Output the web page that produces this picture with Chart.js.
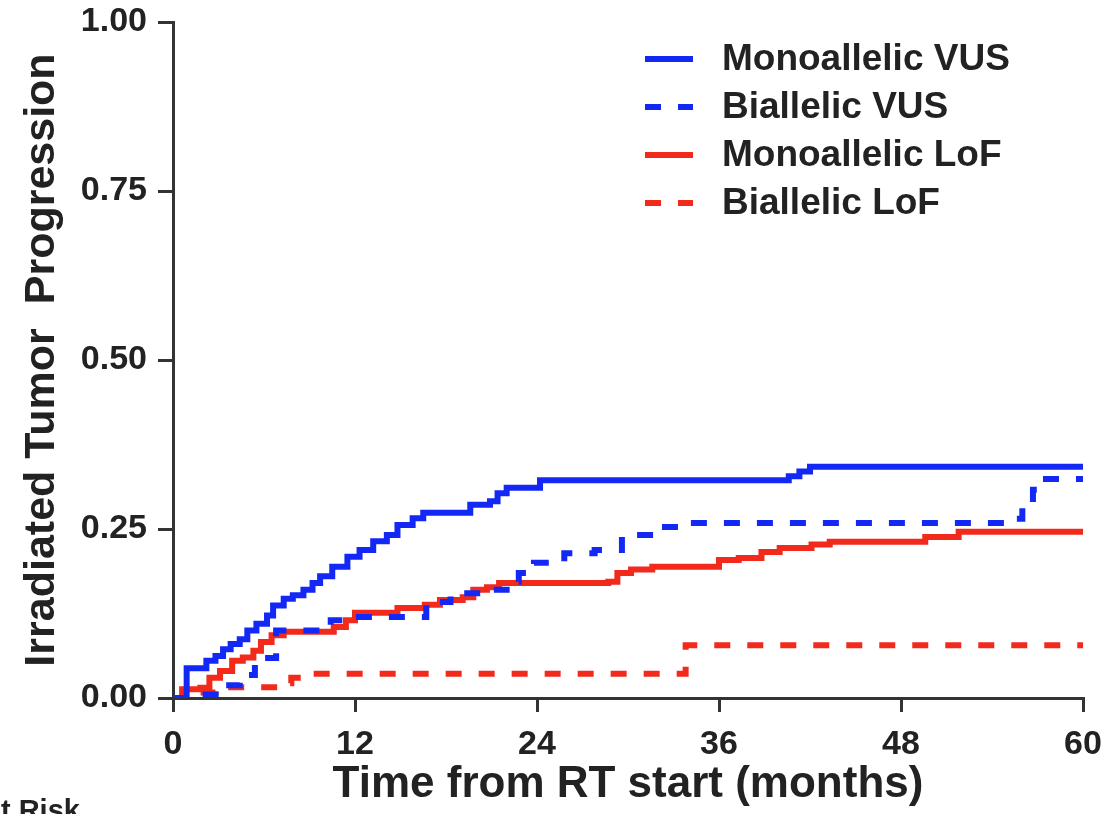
<!DOCTYPE html>
<html>
<head>
<meta charset="utf-8">
<script src="https://cdn.jsdelivr.net/npm/chart.js@4.4.1/dist/chart.umd.min.js"></script>
<style>
body{margin:0;background:#fff;overflow:hidden}
#wrap{position:relative;width:1109px;height:814px}
#atRisk{position:absolute;left:-20px;top:794px;font:bold 29px "Liberation Sans",Arial,sans-serif;color:#222;white-space:nowrap}
</style>
</head>
<body>
<div id="wrap">
<canvas id="km" width="1109" height="814"></canvas>
<div id="atRisk">At Risk</div>
</div>
<script>

/* DATA (months, cumulative incidence) */

const xTicks = [0,12,24,36,48,60]
const yTicks = [0,0.25,0.5,0.75,1]

const monoVusTime = [0,0.9,2.2,2.8,3.3,3.8,4.4,4.9,5.5,6.2,6.6,7.3,7.9,8.6,9.2,9.7,10.5,11.5,12.3,13.2,14.1,14.8,15.8,16.5,19.6,20.9,21.4,22.0,24.2,40.6,41.3,42.0,60]
const monoVusProb = [0,0.044,0.055,0.062,0.072,0.080,0.087,0.100,0.110,0.122,0.137,0.147,0.152,0.160,0.170,0.180,0.194,0.209,0.219,0.232,0.241,0.256,0.266,0.274,0.286,0.291,0.303,0.311,0.322,0.328,0.335,0.342,0.342]

const biVusTime = [0,1.5,3.4,4.4,5.4,6.8,10.4,11.6,16.7,18.3,20.6,22.0,22.8,23.8,25.8,27.8,29.6,31.8,33.8,55.3,56.0,56.7,57.3,60]
const biVusProb = [0,0.005,0.019,0.034,0.059,0.100,0.115,0.120,0.142,0.155,0.160,0.172,0.185,0.200,0.214,0.219,0.241,0.253,0.259,0.265,0.288,0.308,0.324,0.324]

const monoLofTime = [0,0.6,1.8,2.4,3.1,3.9,4.6,5.3,5.8,6.5,7.3,10.6,11.4,12.0,14.8,16.6,17.6,19.1,19.8,20.7,21.5,28.7,29.3,30.2,31.6,36.0,37.3,38.8,40.0,42.1,43.3,49.6,51.8,60]
const monoLofProb = [0,0.013,0.015,0.030,0.040,0.055,0.060,0.070,0.083,0.093,0.098,0.105,0.115,0.126,0.133,0.138,0.145,0.149,0.160,0.164,0.170,0.172,0.185,0.190,0.194,0.204,0.207,0.216,0.222,0.227,0.231,0.238,0.246,0.246]

const biLofTime = [0,1.5,2.8,7.2,7.8,8.5,33.8,60]
const biLofProb = [0,0.008,0.016,0.022,0.030,0.036,0.078,0.078]

const labels = ["Monoallelic VUS","Biallelic VUS","Monoallelic LoF","Biallelic LoF"]

const BLUE = "#1428f5"
const RED = "#f22a1c"
const INK = "#222"
const FONT = "'Liberation Sans', Arial, sans-serif"

function pts(t,p){
return t.map((v,i)=>({x:v,y:p[i]}))
}

function series(label,t,p,color,dash){
return {
label:label,
data:pts(t,p),
borderColor:color,
backgroundColor:color,
borderWidth:6,
borderDash:dash,
stepped:true,
pointRadius:0,
fill:false
}
}

/* LEGEND drawn on canvas */

const kmLegend = {
id:"kmLegend",
afterDraw(chart){
const ctx = chart.ctx
ctx.save()
chart.data.datasets.forEach((ds,i)=>{
const y = 59 + i*48
ctx.strokeStyle = ds.borderColor
ctx.lineWidth = 6
ctx.setLineDash(ds.borderDash || [])
ctx.beginPath()
ctx.moveTo(645,y)
ctx.lineTo(693,y)
ctx.stroke()
ctx.setLineDash([])
ctx.fillStyle = INK
ctx.font = "bold 37px " + FONT
ctx.textBaseline = "middle"
ctx.fillText(ds.label,722,y+1)
})
ctx.restore()
}
}

new Chart(document.getElementById("km"),{
type:"line",
data:{
datasets:[
series(labels[0],monoVusTime,monoVusProb,BLUE,[]),
series(labels[1],biVusTime,biVusProb,BLUE,[16,17]),
series(labels[2],monoLofTime,monoLofProb,RED,[]),
series(labels[3],biLofTime,biLofProb,RED,[16,17])
]
},
options:{
responsive:false,
devicePixelRatio:1,
animation:false,
layout:{padding:{top:22,right:26,left:0,bottom:0}},
plugins:{legend:{display:false},tooltip:{enabled:false}},
scales:{
x:{
type:"linear",
min:0,max:60,
afterBuildTicks(s){ s.ticks = xTicks.map(v=>({value:v})) },
afterFit(s){ s.height = 116; s.paddingLeft = 0; s.paddingRight = 0 },
grid:{drawOnChartArea:false,drawTicks:true,tickLength:14,color:"#333",lineWidth:3},
border:{color:"#333",width:3},
ticks:{color:INK,padding:12,font:{family:FONT,size:34,weight:"bold"}},
title:{display:true,text:"Time from RT start (months)",color:INK,padding:{top:0,bottom:3},font:{family:FONT,size:44,weight:"bold"}}
},
y:{
min:0,max:1,
afterBuildTicks(s){ s.ticks = yTicks.map(v=>({value:v})) },
afterFit(s){ s.width = 173; s.paddingTop = 0; s.paddingBottom = 0 },
grid:{drawOnChartArea:false,drawTicks:true,tickLength:15,color:"#333",lineWidth:3},
border:{color:"#333",width:3},
ticks:{color:INK,padding:11,callback:v=>v.toFixed(2),font:{family:FONT,size:34,weight:"bold"}},
title:{display:true,text:"Irradiated Tumor  Progression",color:INK,padding:{top:16,bottom:0},font:{family:FONT,size:43,weight:"bold"}}
}
}
},
plugins:[kmLegend]
})

</script>
</body>
</html>
